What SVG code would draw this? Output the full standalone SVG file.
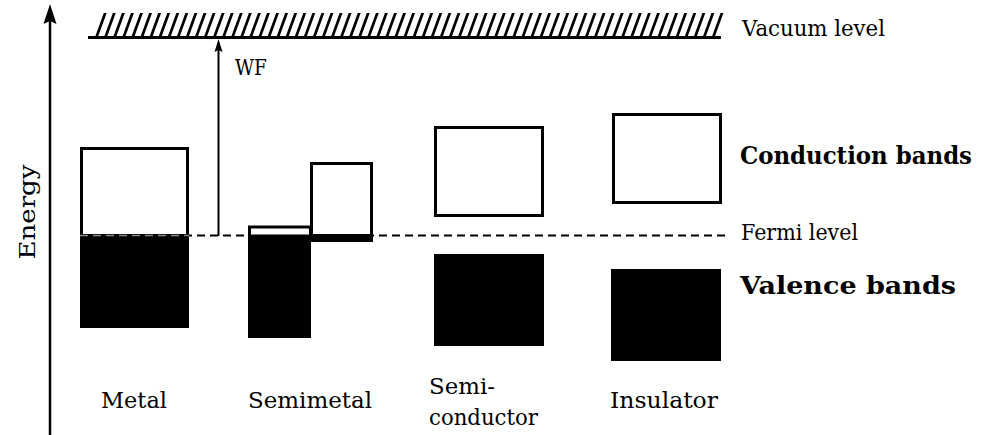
<svg xmlns="http://www.w3.org/2000/svg" width="982" height="435" viewBox="0 0 982 435">
  <style>
    .t { font-family: "DejaVu Serif", "Liberation Serif", serif; font-size: 21.5px; fill: #000; }
    .b { font-family: "DejaVu Serif", "Liberation Serif", serif; font-size: 24px; font-weight: bold; fill: #000; }
    .ob { fill: #fff; stroke: #000; stroke-width: 3; }
    .fb { fill: #000; stroke: none; }
  </style>
  <rect width="982" height="435" fill="#fff"/>

  <g id="axis">
    <line x1="50" y1="435" x2="50" y2="20" stroke="#000" stroke-width="2.5"/>
    <path d="M50,4 L56.5,24 L50,21 L43.5,24 Z" fill="#000"/>
    <text class="t" transform="translate(35,212) rotate(-90)" text-anchor="middle" textLength="95" lengthAdjust="spacingAndGlyphs" style="font-size:23px">Energy</text>
  </g>

  <g id="vacuum">
    <line x1="88" y1="37.5" x2="721" y2="37.5" stroke="#000" stroke-width="3"/>
    <line x1="108.5" y1="25" x2="728.2" y2="25" stroke="#000" stroke-width="24" stroke-dasharray="2.9 6.17" transform="skewX(-20)"/>
    <text class="t" x="742" y="36" textLength="143" lengthAdjust="spacingAndGlyphs">Vacuum level</text>
  </g>

  <g id="fermi">
    <line x1="80" y1="235.5" x2="726" y2="235.5" stroke="#000" stroke-width="2" stroke-dasharray="8 5"/>
    <text class="t" x="741" y="240" textLength="117" lengthAdjust="spacingAndGlyphs">Fermi level</text>
  </g>

  <g id="metal">
    <rect class="ob" x="81.5" y="148.5" width="106" height="87"/>
    <rect class="fb" x="80" y="235" width="109" height="93"/>
    <line x1="80" y1="235.5" x2="189" y2="235.5" stroke="#888" stroke-width="1.5" stroke-dasharray="8 5"/>
    <text class="t" x="101" y="408" textLength="66" lengthAdjust="spacingAndGlyphs">Metal</text>
  </g>

  <g id="semimetal">
    <rect class="ob" x="249.5" y="227" width="61" height="9"/>
    <rect class="fb" x="248" y="235" width="63" height="103"/>
    <rect class="ob" x="311.5" y="163.5" width="60" height="72"/>
    <rect class="fb" x="311" y="235" width="62" height="7"/>
    <text class="t" x="248" y="408" textLength="124" lengthAdjust="spacingAndGlyphs">Semimetal</text>
  </g>

  <g id="semiconductor">
    <rect class="ob" x="435.5" y="127.5" width="107" height="88"/>
    <rect class="fb" x="434" y="254" width="110" height="92"/>
    <text class="t" x="429" y="394" textLength="66" lengthAdjust="spacingAndGlyphs">Semi-</text>
    <text class="t" x="429" y="425" textLength="109" lengthAdjust="spacingAndGlyphs">conductor</text>
  </g>

  <g id="insulator">
    <rect class="ob" x="613.5" y="114.5" width="107" height="88"/>
    <rect class="fb" x="611" y="269" width="110" height="92"/>
    <text class="t" x="610" y="408" textLength="108" lengthAdjust="spacingAndGlyphs">Insulator</text>
  </g>

  <g id="connectors">
    <line x1="218.5" y1="236" x2="218.5" y2="50" stroke="#000" stroke-width="2"/>
    <path d="M218.5,39 L222.5,52 L218.5,50 L214.5,52 Z" fill="#000"/>
    <text class="t" x="235" y="75" textLength="32" lengthAdjust="spacingAndGlyphs">WF</text>
  </g>

  <g id="legend">
    <text class="b" x="740" y="164" textLength="232" lengthAdjust="spacingAndGlyphs">Conduction bands</text>
    <text class="b" x="740" y="294" textLength="216" lengthAdjust="spacingAndGlyphs">Valence bands</text>
  </g>
</svg>
